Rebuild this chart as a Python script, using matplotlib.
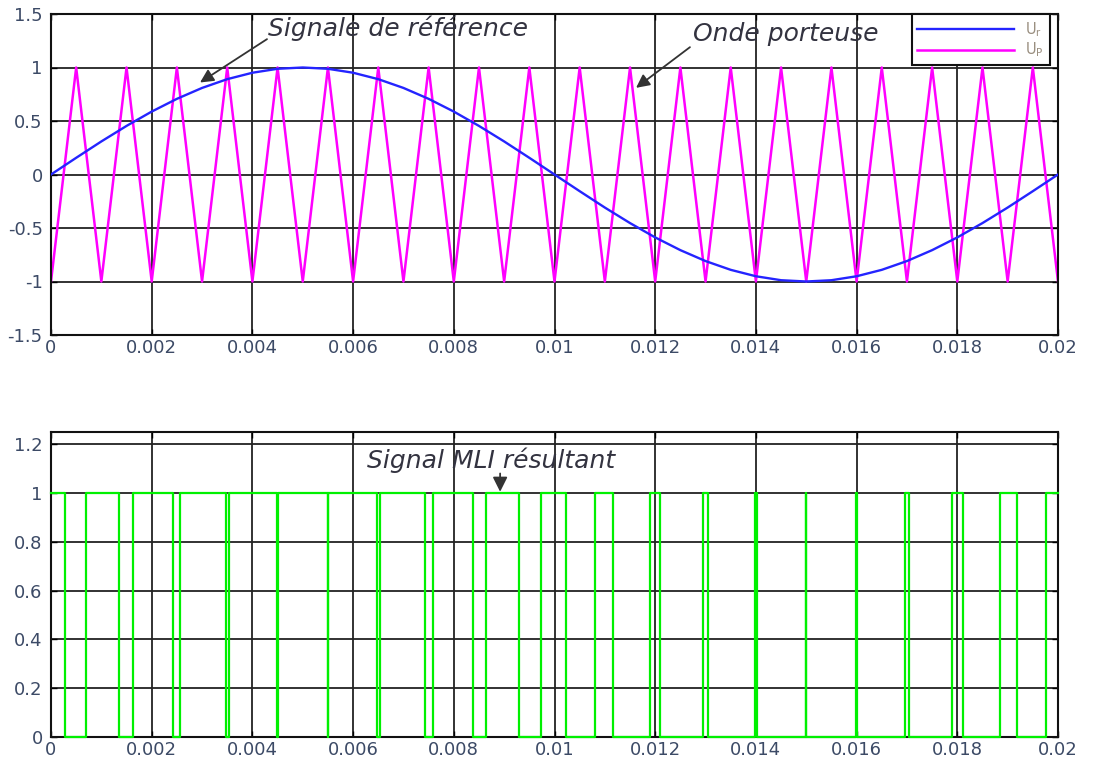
import numpy as np
import matplotlib
matplotlib.use("Agg")
import matplotlib.pyplot as plt
from matplotlib.ticker import FuncFormatter, MultipleLocator

plt.rcParams["font.family"] = ["DejaVu Sans"]
plt.rcParams["axes.unicode_minus"] = False

# Sampling instants of the reference and carrier (s)
t_samples = np.linspace(0.0, 0.02, 41)

# Reference (modulating) signal U_r
u_ref = [0.0, 0.156, 0.309, 0.454, 0.588, 0.707, 0.809, 0.891, 0.951, 0.988, 1.0,
         0.988, 0.951, 0.891, 0.809, 0.707, 0.588, 0.454, 0.309, 0.156, 0.0,
         -0.156, -0.309, -0.454, -0.588, -0.707, -0.809, -0.891, -0.951, -0.988, -1.0,
         -0.988, -0.951, -0.891, -0.809, -0.707, -0.588, -0.454, -0.309, -0.156, 0.0]

# Triangular carrier U_P (vertices)
u_carrier = [-1, 1, -1, 1, -1, 1, -1, 1, -1, 1, -1, 1, -1, 1, -1, 1, -1, 1, -1, 1, -1,
             1, -1, 1, -1, 1, -1, 1, -1, 1, -1, 1, -1, 1, -1, 1, -1, 1, -1, 1, -1]

# PWM (MLI) switching instants (s): output drops to 0 at mli_off, back to 1 at mli_on
mli_off = [0.000271, 0.001353, 0.002422, 0.003472, 0.004497, 0.005497, 0.006474,
           0.007431, 0.008372, 0.009304, 0.010232, 0.011161, 0.012097, 0.013046,
           0.014012, 0.015000, 0.016013, 0.017050, 0.018110, 0.019187]
mli_on = [0.000696, 0.001628, 0.002569, 0.003526, 0.004503, 0.005503, 0.006528,
          0.007578, 0.008647, 0.009729, 0.010813, 0.011890, 0.012950, 0.013987,
          0.015000, 0.015988, 0.016954, 0.017903, 0.018839, 0.019768]
t_end = 0.02

# Build the step waveform of the PWM output
mli_t = [0.0]
mli_v = [1]
for t_off, t_on in zip(mli_off, mli_on):
    mli_t += [t_off, t_off, t_on, t_on]
    mli_v += [1, 0, 0, 1]
mli_t.append(t_end)
mli_v.append(1)

W, H = 1093, 762
fig = plt.figure(figsize=(W / 100, H / 100), dpi=100)
fig.patch.set_facecolor("white")

def px_axes(left, top, right, bottom):
    return fig.add_axes([left / W, 1 - bottom / H, (right - left) / W, (bottom - top) / H])

ax1 = px_axes(51, 14, 1058, 335)
ax2 = px_axes(51, 432, 1058, 737)

tick_color = "#3c4a66"
fmt = FuncFormatter(lambda v, p: ("%g" % round(v, 6)))

for ax in (ax1, ax2):
    ax.set_xlim(0, 0.02)
    ax.xaxis.set_major_locator(MultipleLocator(0.002))
    ax.xaxis.set_major_formatter(fmt)
    ax.yaxis.set_major_formatter(fmt)
    ax.grid(True, color="#222222", linewidth=1.3)
    ax.set_axisbelow(True)
    ax.tick_params(direction="in", length=4, width=1, top=True, right=True,
                   labelsize=13, labelcolor=tick_color)
    ax.tick_params(axis="x", pad=3)
    ax.tick_params(axis="y", pad=6)
    for s in ax.spines.values():
        s.set_linewidth(1.5)
        s.set_color("#111111")

# Top: reference and carrier
ax1.set_ylim(-1.5, 1.5)
ax1.yaxis.set_major_locator(MultipleLocator(0.5))
l_ref, = ax1.plot(t_samples, u_ref, color="#2424ff", linewidth=1.7, label=r"U$_\mathregular{r}$")
l_car, = ax1.plot(t_samples, u_carrier, color="#ff00ff", linewidth=1.8, label=r"U$_\mathregular{P}$")
l_ref.set_zorder(3)

leg = ax1.legend(handles=[l_ref, l_car], loc="upper right", bbox_to_anchor=(0.992, 1.0),
                 borderaxespad=0, fancybox=False, framealpha=1, edgecolor="#111111",
                 fontsize=10.5, handlelength=6.6, handletextpad=0.8, borderpad=0.4,
                 labelspacing=0.15, labelcolor="#9a8f80")
leg.get_frame().set_linewidth(1.5)

arrow_kw = dict(arrowstyle="-|>", color="#333333", lw=1.3, mutation_scale=20,
                shrinkA=0, shrinkB=0)
text_kw = dict(fontsize=18, style="italic", color="#333340", va="center", ha="left")

ax1.text(0.00431, 1.37, "Signale de référence", **text_kw)
ax1.annotate("", xy=(0.00296, 0.86), xytext=(0.00429, 1.265), arrowprops=arrow_kw)
ax1.text(0.01275, 1.31, "Onde porteuse", **text_kw)
ax1.annotate("", xy=(0.01162, 0.81), xytext=(0.01269, 1.19), arrowprops=arrow_kw)

# Bottom: resulting PWM signal
ax2.set_ylim(0, 1.25)
ax2.yaxis.set_major_locator(MultipleLocator(0.2))
ax2.plot(mli_t, mli_v, color="#00f000", linewidth=1.6, zorder=3, clip_on=False)
ax2.text(0.00628, 1.135, "Signal MLI résultant", **text_kw)
ax2.annotate("", xy=(0.00892, 1.005), xytext=(0.00892, 1.08),
             arrowprops=dict(arrow_kw, mutation_scale=22))

fig.savefig("out.png", dpi=100, facecolor="white")
